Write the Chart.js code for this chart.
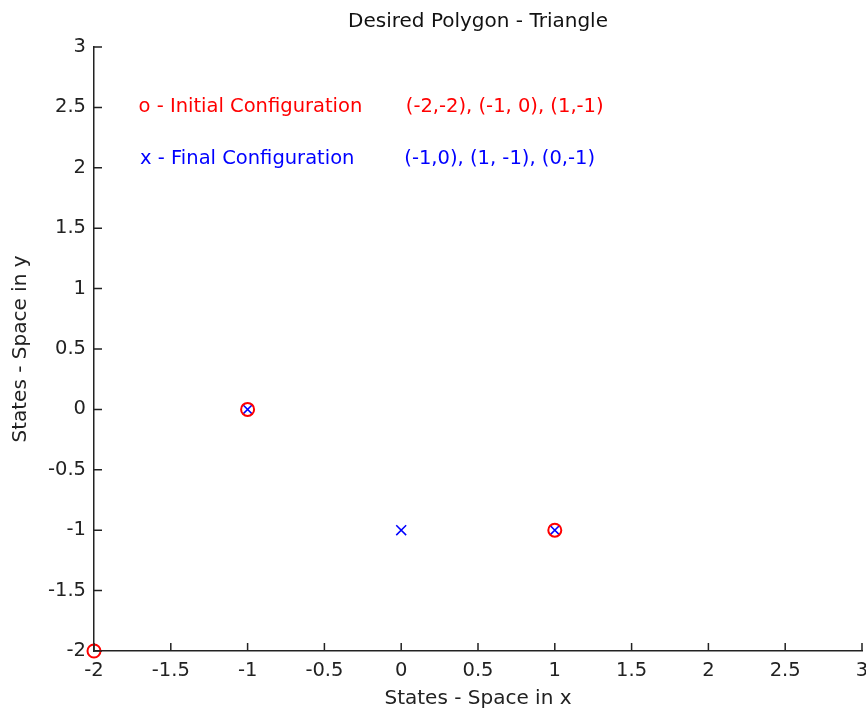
<!DOCTYPE html>
<html>
<head>
<meta charset="utf-8">
<script src="https://cdn.jsdelivr.net/npm/chart.js@4"></script>
<style>
  html, body { margin: 0; padding: 0; background: #fff; }
  #wrap { width: 866px; height: 714px; }
</style>
</head>
<body>
<div id="wrap"><canvas id="chart"></canvas></div>
<script>
// initial configuration (red circles)
const initialX = [-2, -1, 1];
const initialY = [-2, 0, -1];
// final configuration (blue crosses)
const finalX = [-1, 1, 0];
const finalY = [0, -1, -1];

const xTicks = [-2, -1.5, -1, -0.5, 0, 0.5, 1, 1.5, 2, 2.5, 3];
const yTicks = [-2, -1.5, -1, -0.5, 0, 0.5, 1, 1.5, 2, 2.5, 3];

// text annotations placed in data coordinates
const noteText = ['o - Initial Configuration', '(-2,-2), (-1, 0), (1,-1)',
                  'x - Final Configuration', '(-1,0), (1, -1), (0,-1)'];
const noteX = [-1.71, 0.03, -1.7, 0.02];
const noteY = [2.5, 2.5, 2.07, 2.07];
const noteColor = ['#ff0000', '#ff0000', '#0000ff', '#0000ff'];

const FONT = '"DejaVu Sans", Verdana, sans-serif';

//draws ticks pointing into the plot plus the text notes
const extras = {
    id: 'extras',
    afterDraw(chart) {
        const ctx = chart.ctx;
        const area = chart.chartArea;
        const xs = chart.scales.x;
        const ys = chart.scales.y;
        ctx.save();
        ctx.strokeStyle = '#222';
        ctx.lineWidth = 1.5;
        ctx.beginPath();
        xTicks.forEach(v => {
            const px = xs.getPixelForValue(v);
            ctx.moveTo(px, area.bottom);
            ctx.lineTo(px, area.bottom - 8);
        });
        yTicks.forEach(v => {
            const py = ys.getPixelForValue(v);
            ctx.moveTo(area.left, py);
            ctx.lineTo(area.left + 8, py);
        });
        ctx.stroke();

        ctx.font = '19.5px ' + FONT;
        ctx.textAlign = 'left';
        ctx.textBaseline = 'middle';
        noteText.forEach((t, i) => {
            ctx.fillStyle = noteColor[i];
            ctx.fillText(t, xs.getPixelForValue(noteX[i]), ys.getPixelForValue(noteY[i]));
        });
        ctx.restore();
    }
};

function noPad(s) {
    s.paddingLeft = 0;
    s.paddingRight = 0;
    s.paddingTop = 0;
    s.paddingBottom = 0;
}

new Chart(document.getElementById('chart').getContext('2d'), {
    type: 'scatter',
    data: {
        datasets: [{
            label: 'Initial',
            data: initialX.map((x, i) => ({ x: x, y: initialY[i] })),
            pointStyle: 'circle',
            pointRadius: 6.5,
            borderColor: '#ff0000',
            backgroundColor: 'rgba(0,0,0,0)',
            borderWidth: 2,
            clip: false
        }, {
            label: 'Final',
            data: finalX.map((x, i) => ({ x: x, y: finalY[i] })),
            pointStyle: 'crossRot',
            pointRadius: 7,
            borderColor: '#0000ff',
            backgroundColor: '#0000ff',
            borderWidth: 1.5,
            clip: false
        }]
    },
    options: {
        responsive: true,
        maintainAspectRatio: false,
        animation: false,
        layout: { autoPadding: false, padding: { top: 0, left: 0, right: 4, bottom: 0 } },
        plugins: {
            legend: { display: false },
            tooltip: { enabled: false },
            title: {
                display: true,
                fullSize: false,
                text: 'Desired Polygon - Triangle',
                color: '#111',
                font: { family: FONT, size: 20, weight: 'normal' },
                padding: { top: 10, bottom: 13 }
            }
        },
        scales: {
            x: {
                type: 'linear',
                min: -2,
                max: 3,
                afterFit: s => { s.height = 63; noPad(s); },
                afterBuildTicks: s => { s.ticks = xTicks.map(v => ({ value: v })); },
                grid: { display: false, drawTicks: false },
                border: { display: true, color: '#222', width: 1.5 },
                ticks: {
                    color: '#222',
                    padding: 8,
                    font: { family: FONT, size: 19.5 },
                    maxRotation: 0,
                    callback: v => String(v)
                },
                title: {
                    display: true,
                    text: 'States - Space in x',
                    color: '#222',
                    font: { family: FONT, size: 20 },
                    padding: { top: 0, bottom: 3 }
                }
            },
            y: {
                type: 'linear',
                min: -2,
                max: 3,
                afterFit: s => { s.width = 94; noPad(s); },
                afterBuildTicks: s => { s.ticks = yTicks.map(v => ({ value: v })); },
                grid: { display: false, drawTicks: false },
                border: { display: true, color: '#222', width: 1.5 },
                ticks: {
                    color: '#222',
                    padding: 8,
                    font: { family: FONT, size: 19.5 },
                    callback: v => String(v)
                },
                title: {
                    display: true,
                    text: 'States - Space in y',
                    color: '#222',
                    font: { family: FONT, size: 20 },
                    padding: { top: 9, bottom: 0 }
                }
            }
        }
    },
    plugins: [extras]
});
</script>
</body>
</html>
